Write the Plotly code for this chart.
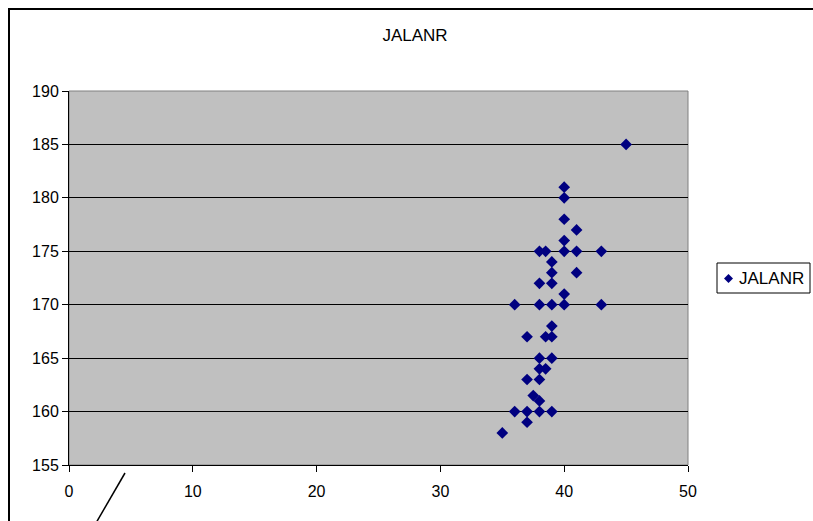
import plotly.graph_objects as go

series_name = "JALANR"
x_vals = [45, 40, 40, 40, 41, 40, 38, 38.5, 40, 41, 43, 39, 39, 41, 38, 39, 40,
          36, 38, 39, 40, 43, 39, 37, 38.5, 39, 38, 39, 38, 38.5, 37, 38, 37.5,
          38, 36, 37, 38, 39, 37, 35]
y_vals = [185, 181, 180, 178, 177, 176, 175, 175, 175, 175, 175, 174, 173, 173,
          172, 172, 171, 170, 170, 170, 170, 170, 168, 167, 167, 167, 165, 165,
          164, 164, 163, 163, 161.5, 161, 160, 160, 160, 160, 159, 158]
x_ticks = [0, 10, 20, 30, 40, 50]
y_ticks = [155, 160, 165, 170, 175, 180, 185, 190]

W, H = 813, 521
L, R, T, B = 69, 688, 91, 465
pw, ph = R - L, B - T
MARKER_COLOR = "#000080"

def px(xp):
    return (xp - L) / pw

def py(yp):
    return (B - yp) / ph

FAM = "Liberation Sans, Arial, sans-serif"
font = dict(family=FAM, size=16, color="black")

fig = go.Figure()
fig.add_trace(go.Scatter(
    x=x_vals, y=y_vals, mode="markers", name=series_name,
    marker=dict(symbol="diamond", size=9, color=MARKER_COLOR,
                line=dict(width=0)),
    showlegend=False,
))

# manual legend (box, diamond symbol, label)
lx0, lx1, ly0, ly1 = 717, 810, 263, 293
cx, cy, d = 728.5, 278.5, 4.5
diamond_path = (f"M {px(cx)},{py(cy - d)} L {px(cx + d)},{py(cy)} "
                f"L {px(cx)},{py(cy + d)} L {px(cx - d)},{py(cy)} Z")

fig.update_layout(
    width=W, height=H,
    margin=dict(l=L, r=W - R, t=T, b=H - B, pad=0, autoexpand=False),
    paper_bgcolor="white",
    plot_bgcolor="#C0C0C0",
    font=font,
    title=dict(text="JALANR", x=415 / W, xref="container", xanchor="center",
               y=1 - 35 / H, yref="container", yanchor="middle",
               font=dict(size=17, family=FAM, color="black")),
    showlegend=False,
    xaxis=dict(range=[0, 50], tickvals=x_ticks, showgrid=False, zeroline=False,
               showline=True, linecolor="black", linewidth=1,
               ticks="outside", ticklen=6, tickcolor="black",
               ticklabelstandoff=6,
               tickfont=dict(size=16, family=FAM), fixedrange=True),
    yaxis=dict(range=[155, 190], tickvals=y_ticks, showgrid=True,
               gridcolor="black", gridwidth=1, zeroline=False,
               showline=True, linecolor="black", linewidth=1,
               ticks="outside", ticklen=6, tickcolor="black",
               tickfont=dict(size=16, family=FAM), fixedrange=True),
    shapes=[
        dict(type="rect", xref="paper", yref="paper", x0=0, x1=1, y0=0, y1=1,
             line=dict(color="#808080", width=1), fillcolor="rgba(0,0,0,0)",
             layer="below"),
        dict(type="rect", xref="paper", yref="paper",
             x0=px(9), x1=px(830), y0=py(540), y1=py(9),
             line=dict(color="black", width=2), fillcolor="rgba(0,0,0,0)"),
        dict(type="line", xref="paper", yref="paper",
             x0=px(125), y0=py(473), x1=px(96), y1=py(523),
             line=dict(color="black", width=1.5)),
        dict(type="rect", xref="paper", yref="paper",
             x0=px(lx0), x1=px(lx1), y0=py(ly1), y1=py(ly0),
             line=dict(color="black", width=1), fillcolor="white"),
        dict(type="path", xref="paper", yref="paper", path=diamond_path,
             line=dict(width=0), fillcolor=MARKER_COLOR),
    ],
    annotations=[
        dict(text=series_name, xref="paper", yref="paper",
             x=px(737), y=py(278.5), xanchor="left", yanchor="middle",
             showarrow=False, font=dict(size=17, family=FAM, color="black")),
    ],
)

fig.write_html("out.html")
